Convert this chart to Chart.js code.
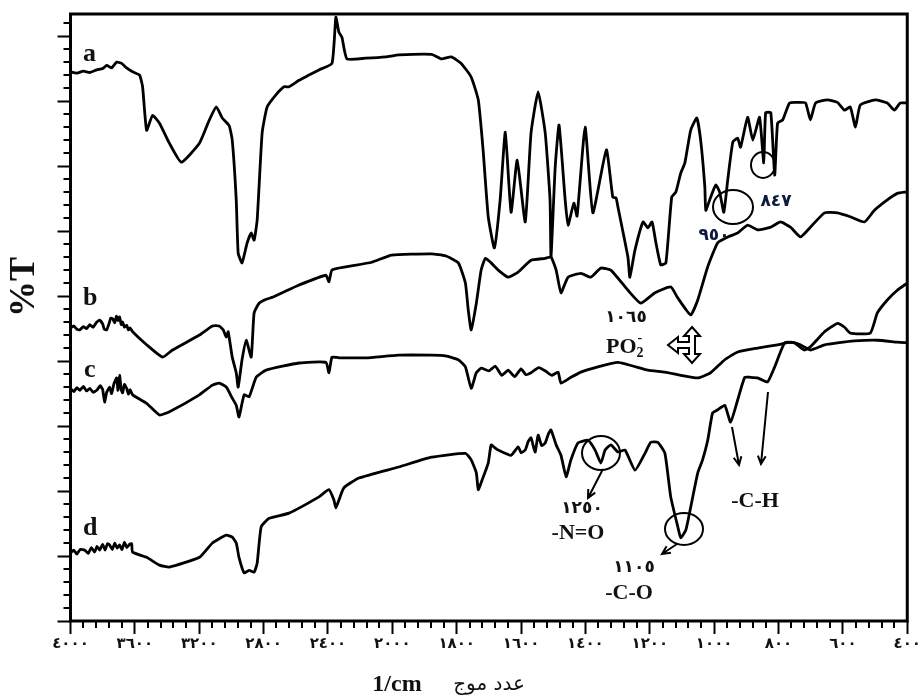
<!DOCTYPE html>
<html>
<head>
<meta charset="utf-8">
<script src="https://cdn.jsdelivr.net/npm/chart.js@4.4.1/dist/chart.umd.min.js"></script>
<style>
  html, body { margin: 0; padding: 0; background: #fff; }
  canvas { display: block; }
</style>
</head>
<body>
<canvas id="irChart" width="922" height="697"></canvas>
<script>
// x axis: wavenumber ticks (scale changes at 2000)
const xTickValues = [4000, 3600, 3200, 2800, 2400, 2000, 1800, 1600, 1400, 1200, 1000, 800, 600, 400];
const xTickLabels = ['٤٠٠٠', '٣٦٠٠', '٣٢٠٠', '٢٨٠٠', '٢٤٠٠', '٢٠٠٠', '١٨٠٠', '١٦٠٠', '١٤٠٠', '١٢٠٠', '١٠٠٠', '٨٠٠', '٦٠٠', '٤٠٠'];

// spectrum a
const aWn = [4000,3960,3920,3880,3837,3800,3775,3744,3713,3682,
  3651,3614,3571,3552,3527,3490,3447,3385,3311,3199,
  3137,3094,3057,3014,2995,2970,2958,2934,2902,2877,
  2859,2840,2809,2778,2722,2673,2642,2580,2518,2456,
  2375,2351,2332,2313,2282,2165,2041,1980,1878,1847,
  1817,1786,1755,1733,1718,1702,1683,1665,1649,1631,
  1612,1587,1569,1547,1525,1510,1507,1494,1482,1463,
  1454,1436,1426,1401,1377,1335,1315,1305,1299,1268,
  1262,1246,1221,1206,1193,1181,1166,1150,1132,1119,
  1104,1091,1073,1054,1042,1029,1026,1011,995,983,
  970,958,942,927,918,896,880,859,846,840,
  824,812,803,787,766,741,716,701,685,648,
  617,595,577,561,546,499,462,440,422,400];
const aT = [84.5,84.3,84.6,84.4,84.8,85.0,85.5,85.1,86.0,85.8,
  85.1,84.5,84.0,82.2,75.5,77.8,76.6,73.5,70.6,73.5,
  77.1,79.1,77.4,76.2,74.0,64.8,56.6,55.1,58.2,59.7,
  58.6,61.7,75.1,79.1,81.0,82.2,82.2,83.2,84.0,84.8,
  85.8,92.9,90.6,89.8,86.5,86.6,86.8,87.1,87.2,86.5,
  86.8,85.8,83.7,80.2,72.5,62.2,57.4,64.8,75.2,62.9,
  70.9,61.4,75.1,81.4,75.1,64.8,56.0,69.8,76.3,64.8,
  60.9,64.3,62.3,76.0,62.8,72.5,65.2,65.1,63.7,56.0,
  52.9,57.1,61.4,60.5,61.4,58.2,54.8,55.1,65.2,66.0,
  68.9,70.5,75.5,77.4,74.0,66.8,63.2,65.2,67.1,66.0,
  62.9,67.8,73.7,74.3,72.9,77.5,74.0,77.5,70.5,78.2,
  78.2,68.6,76.6,77.1,79.7,79.8,79.7,77.1,79.7,80.2,
  79.8,78.6,79.1,76.0,79.4,80.2,79.7,78.6,79.7,79.7];

// spectrum b
const bWn = [4000,3980,3960,3942,3920,3900,3880,3860,3840,3819,
  3800,3790,3775,3760,3750,3738,3725,3715,3705,3695,
  3685,3676,3665,3651,3640,3630,3614,3527,3428,3366,
  3199,3118,3076,3051,3032,3020,2995,2970,2958,2934,
  2908,2877,2859,2828,2784,2747,2685,2580,2413,2394,
  2375,2289,2128,2004,1878,1835,1795,1773,1764,1755,
  1739,1724,1711,1693,1671,1640,1609,1569,1525,1507,
  1491,1476,1454,1414,1383,1352,1321,1268,1228,1184,
  1135,1113,1073,1051,1020,989,958,927,896,865,
  824,794,763,732,701,657,617,577,533,502,
  462,431,409,400];
const bT = [45.1,45.4,44.9,44.8,45.3,45.0,45.6,45.2,45.9,46.3,
  45.7,44.9,44.8,45.8,46.6,46.5,45.9,46.9,46.2,46.8,
  45.6,46.0,45.2,45.5,44.8,45.1,44.5,42.5,40.6,41.7,
  44.0,45.4,45.4,44.8,43.7,44.5,40.6,38.2,36.0,40.2,
  43.2,40.6,47.4,48.9,49.5,49.8,50.5,51.7,53.2,52.2,
  54.0,54.5,55.2,56.3,56.5,56.2,55.1,52.0,47.8,44.8,
  48.9,54.0,55.8,55.1,54.0,52.9,53.7,55.5,55.8,56.0,
  54.0,50.5,52.9,53.5,52.9,54.3,54.0,50.9,48.9,50.5,
  51.4,49.7,47.1,49.4,54.5,58.2,59.1,59.7,60.9,60.2,
  60.6,61.4,60.6,59.1,60.6,62.8,62.8,62.2,61.4,63.2,
  64.8,65.8,66.0,66.0];

// spectrum c
const cWn = [4000,3980,3960,3942,3920,3900,3880,3860,3837,3815,
  3800,3788,3775,3757,3745,3730,3713,3705,3695,3685,
  3676,3665,3651,3640,3630,3614,3527,3447,3385,3199,
  3118,3076,3032,2995,2970,2953,2921,2890,2846,2784,
  2580,2413,2394,2375,2332,2165,1980,1878,1835,1795,
  1773,1755,1739,1724,1700,1680,1660,1640,1620,1600,
  1585,1569,1545,1525,1505,1485,1476,1445,1414,1361,
  1299,1206,1153,1104,1051,1011,967,927,865,803,
  763,732,701,657,617,564,493,431,400];
const cT = [35.8,35.3,35.9,35.5,36.1,35.4,35.8,35.2,35.5,36.2,
  35.6,33.7,35.2,36.0,35.0,36.5,37.4,35.5,37.8,35.6,
  35.1,36.4,35.8,34.9,35.6,34.8,33.5,31.7,32.2,34.8,
  36.3,36.6,36.0,34.3,33.2,31.4,34.8,34.5,37.5,38.6,
  39.7,39.8,38.2,40.6,40.5,40.5,40.9,40.9,40.8,40.2,
  39.1,35.8,38.2,38.9,38.5,39.2,37.8,38.6,37.6,38.8,
  37.9,38.2,39.0,38.5,37.8,38.3,36.6,37.5,38.3,39.1,
  39.8,38.6,38.3,37.8,37.4,38.2,40.2,41.4,42.0,42.5,
  42.9,42.5,41.7,42.5,42.8,43.1,43.2,42.9,42.8];

// spectrum d
const dWn = [4000,3980,3960,3940,3911,3890,3870,3850,3835,3819,
  3800,3785,3770,3757,3740,3725,3710,3695,3680,3665,
  3650,3633,3620,3614,3527,3447,3385,3199,3118,3032,
  2995,2970,2953,2921,2890,2859,2840,2815,2766,2642,
  2456,2394,2363,2351,2332,2301,2208,1980,1878,1773,
  1755,1739,1733,1721,1702,1693,1680,1671,1631,1609,
  1600,1587,1578,1569,1562,1556,1547,1536,1525,1515,
  1507,1491,1476,1460,1445,1423,1392,1370,1352,1339,
  1321,1299,1277,1246,1215,1197,1175,1153,1135,1113,
  1104,1088,1073,1051,1036,1020,1005,989,967,949,
  927,905,887,865,834,812,781,750,720,701,
  657,617,595,577,515,493,462,431,400];
const dT = [10.5,10.9,10.3,11.0,10.9,10.4,11.3,10.6,11.5,10.9,
  11.8,10.9,11.9,11.7,11.0,12.0,11.2,11.7,11.0,12.1,
  11.3,11.8,11.9,10.6,9.8,8.6,8.3,9.8,12.0,13.2,
  12.9,12.0,9.8,7.4,7.8,7.5,8.9,14.5,15.8,16.6,
  19.1,20.2,18.6,17.4,18.6,20.5,22.0,23.7,25.2,25.8,
  24.8,22.8,20.2,21.7,24.3,27.1,26.6,26.3,25.5,26.8,
  25.9,26.3,27.6,28.2,26.9,26.0,28.6,27.0,27.4,28.8,
  29.4,27.1,25.5,22.2,24.8,27.4,27.8,26.3,24.3,26.3,
  27.1,26.0,26.3,23.2,25.8,27.5,27.5,25.8,19.1,14.5,
  12.8,14.0,17.5,22.8,24.8,27.8,32.0,32.5,33.2,30.6,
  34.0,37.5,37.5,37.4,36.8,39.1,42.8,42.8,41.7,42.2,
  44.5,45.8,45.2,44.3,44.3,47.4,49.4,50.9,52.0];

// the axis is piecewise (400 per division above 2000, 200 below),
// so map a wavenumber onto the tick index position
function toAxis(wn) {
  for (let i = 0; i < xTickValues.length - 1; i++) {
    const hi = xTickValues[i], lo = xTickValues[i + 1];
    if (wn <= hi && wn >= lo) return i + (hi - wn) / (hi - lo);
  }
  return wn > xTickValues[0] ? 0 : xTickValues.length - 1;
}

function series(wn, t) {
  return wn.map((w, i) => ({ x: toAxis(w), y: t[i] }));
}

function lineSet(wn, t) {
  return {
    data: series(wn, t),
    borderColor: '#000',
    borderWidth: 2.8,
    pointRadius: 0,
    tension: 0.15,
    fill: false
  };
}

const Y_MAX = 93.4;
const SERIF = '"Liberation Serif", "DejaVu Serif", serif';
const ARABIC = '"DejaVu Sans", sans-serif';

function ellipse(ctx, cx, cy, rx, ry) {
  ctx.beginPath();
  ctx.ellipse(cx, cy, rx, ry, 0, 0, Math.PI * 2);
  ctx.stroke();
}

function arrow(ctx, x1, y1, x2, y2) {
  const ang = Math.atan2(y2 - y1, x2 - x1);
  const h = 9;
  ctx.beginPath();
  ctx.moveTo(x1, y1);
  ctx.lineTo(x2, y2);
  ctx.moveTo(x2 - h * Math.cos(ang - 0.45), y2 - h * Math.sin(ang - 0.45));
  ctx.lineTo(x2, y2);
  ctx.lineTo(x2 - h * Math.cos(ang + 0.45), y2 - h * Math.sin(ang + 0.45));
  ctx.stroke();
}

function label(ctx, str, x, y, font, color) {
  ctx.font = font;
  ctx.fillStyle = color || '#111';
  ctx.textAlign = 'center';
  ctx.textBaseline = 'alphabetic';
  ctx.fillText(str, x, y);
}

const decorations = {
  id: 'decorations',
  afterDraw(chart) {
    const ctx = chart.ctx;
    const area = chart.chartArea;
    const xs = chart.scales.x, ys = chart.scales.y;
    ctx.save();

    // minor ticks
    ctx.strokeStyle = '#000';
    ctx.lineWidth = 2;
    ctx.beginPath();
    for (let k = 1; k * 2 < Y_MAX; k++) {
      if (k % 5 === 0) continue;
      const py = Math.round(ys.getPixelForValue(k * 2));
      ctx.moveTo(area.left - 7, py);
      ctx.lineTo(area.left, py);
    }
    for (let k = 1; k < 65; k++) {
      if (k % 5 === 0) continue;
      const px = Math.round(xs.getPixelForValue(k * 0.2));
      ctx.moveTo(px, area.bottom);
      ctx.lineTo(px, area.bottom + 7);
    }
    ctx.stroke();

    // frame
    ctx.lineWidth = 3;
    ctx.strokeRect(area.left, area.top, area.right - area.left, area.bottom - area.top);

    // axis titles
    ctx.save();
    ctx.translate(25, 287);
    ctx.rotate(-Math.PI / 2);
    ctx.font = 'bold 36px ' + SERIF;
    ctx.fillStyle = '#111';
    ctx.textAlign = 'center';
    ctx.textBaseline = 'middle';
    ctx.fillText('%T', 0, 0);
    ctx.restore();
    label(ctx, '1/cm', 397, 691, 'bold 24px ' + SERIF);
    label(ctx, 'عدد موج', 489, 690, '20px ' + ARABIC);

    // trace letters
    ctx.textAlign = 'left';
    ctx.font = 'bold 26px ' + SERIF;
    ctx.fillStyle = '#111';
    ctx.fillText('a', 83, 61);
    ctx.fillText('b', 83, 305);
    ctx.fillText('c', 84, 377);
    ctx.fillText('d', 83, 535);

    // circles and arrows
    ctx.strokeStyle = '#000';
    ctx.lineWidth = 2;
    ellipse(ctx, 763, 165, 12, 13);
    ellipse(ctx, 733, 207, 20, 17);
    ellipse(ctx, 601, 453, 19, 17);
    ellipse(ctx, 684, 529, 19, 16);
    arrow(ctx, 603, 469, 588, 498);
    arrow(ctx, 677, 544, 662, 554);
    arrow(ctx, 732, 427, 739, 465);
    arrow(ctx, 768, 392, 761, 464);

    // hollow arrow next to PO2-
    ctx.beginPath();
    const pts = [[692,327],[700,336],[695,336],[695,354],[700,354],[692,363],[684,354],[689,354],
      [689,348],[678,348],[678,353],[668,345],[678,337],[678,342],[689,342],[689,336],[684,336]];
    pts.forEach((p, i) => i ? ctx.lineTo(p[0], p[1]) : ctx.moveTo(p[0], p[1]));
    ctx.closePath();
    ctx.fillStyle = '#fff';
    ctx.fill();
    ctx.stroke();

    // peak labels
    label(ctx, '٨٤٧', 776, 206, 'bold 17px ' + ARABIC, '#0d1b3e');
    label(ctx, '٩٥٠', 714, 240, 'bold 17px ' + ARABIC, '#0d1b3e');
    label(ctx, '١٠٦٥', 626, 322, 'bold 17px ' + ARABIC);
    label(ctx, '١٢٥٠', 582, 513, 'bold 17px ' + ARABIC);
    label(ctx, '١١٠٥', 634, 572, 'bold 17px ' + ARABIC);

    ctx.textAlign = 'left';
    ctx.font = 'bold 22px ' + SERIF;
    ctx.fillStyle = '#111';
    ctx.fillText('PO', 606, 353);
    const poW = ctx.measureText('PO').width;
    ctx.font = 'bold 14px ' + SERIF;
    ctx.fillText('2', 606 + poW, 357);
    ctx.fillText('-', 606 + poW + 1, 342);

    label(ctx, '-N=O', 578, 539, 'bold 22px ' + SERIF);
    label(ctx, '-C-O', 629, 599, 'bold 22px ' + SERIF);
    label(ctx, '-C-H', 755, 507, 'bold 22px ' + SERIF);

    ctx.restore();
  }
};

new Chart(document.getElementById('irChart').getContext('2d'), {
  type: 'line',
  data: {
    datasets: [lineSet(aWn, aT), lineSet(bWn, bT), lineSet(cWn, cT), lineSet(dWn, dT)]
  },
  options: {
    responsive: false,
    animation: false,
    devicePixelRatio: 1,
    layout: { padding: { top: 14, right: 11, left: 0, bottom: 0 } },
    plugins: { legend: { display: false }, tooltip: { enabled: false } },
    scales: {
      x: {
        type: 'linear',
        min: 0,
        max: xTickValues.length - 1,
        afterFit(scale) { scale.height = 76; },
        border: { display: false },
        grid: { drawOnChartArea: false, tickLength: 13, tickColor: '#000', tickWidth: 2 },
        ticks: {
          stepSize: 1,
          padding: 1,
          maxRotation: 0,
          autoSkip: false,
          color: '#111',
          font: { family: ARABIC, size: 15, weight: 'bold' },
          callback: (v) => xTickLabels[Math.round(v)]
        }
      },
      y: {
        min: 0,
        max: Y_MAX,
        afterFit(scale) { scale.width = 70.5; },
        border: { display: false },
        grid: { drawOnChartArea: false, tickLength: 13, tickColor: '#000', tickWidth: 2 },
        ticks: { display: false, stepSize: 10, includeBounds: false }
      }
    }
  },
  plugins: [decorations]
});
</script>
</body>
</html>
